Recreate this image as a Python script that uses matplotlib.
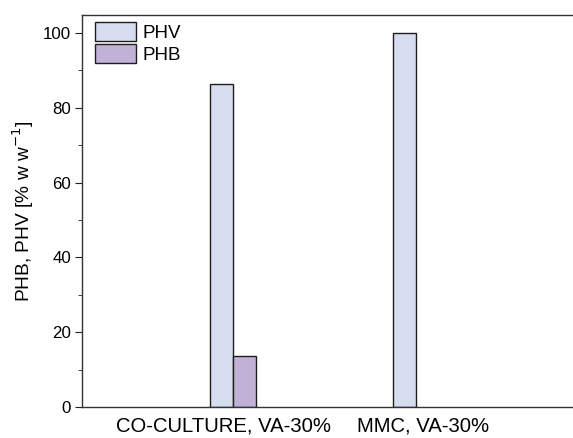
import numpy as np
import matplotlib.pyplot as plt
from matplotlib.ticker import MultipleLocator

plt.rcParams['font.family'] = ['Liberation Sans', 'DejaVu Sans']

# dados
categorias = ['CO-CULTURE, VA-30%', 'MMC, VA-30%']
phv = [86.3, 100.0]
phb = [13.7, 0.0]

fig = plt.figure(figsize=(5.73, 4.38), dpi=100)
ax = fig.add_axes([0.1431, 0.0708, 0.905, 0.895])

x = np.arange(len(categorias))
w = 0.125
ax.bar(x - w / 2, phv, w, color='#d6ddee', edgecolor='#1e1e1e', linewidth=1.0, label='PHV')
barras = ax.bar(x + w / 2, phb, w, color='#c2b1d6', edgecolor='#1e1e1e', linewidth=1.0, label='PHB')
# barra com valor zero nao aparece no original
for b, v in zip(barras, phb):
    if v == 0:
        b.set_visible(False)

ax.set_xlim(-0.825, 2.01)
ax.set_ylim(0, 104.8)
# no original os rotulos ficam um pouco afastados do centro dos grupos
ax.set_xticks(x + np.array([-0.05, 0.042]))
ax.set_xticklabels(categorias, fontsize=14.6)
ax.tick_params(axis='x', length=0, pad=7)
ax.yaxis.set_major_locator(MultipleLocator(20))
ax.yaxis.set_minor_locator(MultipleLocator(10))
ax.tick_params(axis='y', which='major', direction='out', length=5, labelsize=12.2, color='#222222', pad=3)
ax.tick_params(axis='y', which='minor', direction='out', length=3, color='#222222')
ax.set_ylabel('PHB, PHV [% w w$^{-1}$]', fontsize=13.8, labelpad=5)

for s in ax.spines.values():
    s.set_color('#333333')
    s.set_linewidth(1.0)

ax.legend(loc='upper left', frameon=False, fontsize=13.5, handlelength=2.19, handleheight=1.15,
          handletextpad=0.37, labelspacing=0.12, borderpad=0.0, borderaxespad=0.0,
          bbox_to_anchor=(0.025, 0.982))

plt.savefig('out.png', dpi=100)
